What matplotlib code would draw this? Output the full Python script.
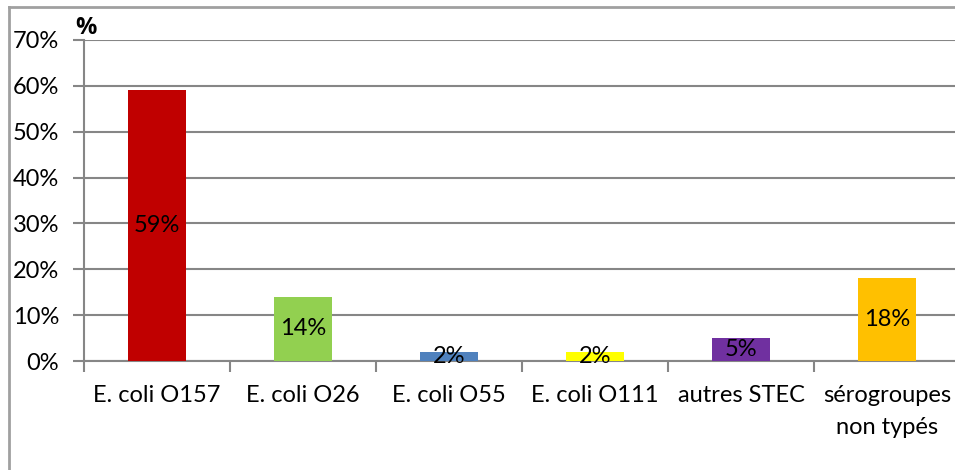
import matplotlib.pyplot as plt
from matplotlib.lines import Line2D
from matplotlib.ticker import FuncFormatter, MultipleLocator

categories = ['E. coli O157', 'E. coli O26', 'E. coli O55', 'E. coli O111',
              'autres STEC', 'sérogroupes\nnon typés']
values = [59, 14, 2, 2, 5, 18]
colors = ['#C00000', '#92D050', '#4F81BD', '#FFFF00', '#7030A0', '#FFC000']

plt.rcParams['font.family'] = ['Lato', 'DejaVu Sans']
grey = '#868686'
fs = 17

fig = plt.figure(figsize=(9.55, 4.7), dpi=100)
ax = fig.add_axes([84 / 955, 109 / 470, 876 / 955, 321 / 470])

x = range(len(categories))
bars = ax.bar(x, values, width=0.4, color=colors, zorder=3)
for b, v in zip(bars, values):
    ax.text(b.get_x() + b.get_width() / 2, v / 2, f'{v}%', ha='center', va='center',
            fontsize=fs, zorder=4)

ax.set_xlim(-0.5, len(categories) - 0.5)
ax.set_ylim(0, 70)
ax.yaxis.set_major_locator(MultipleLocator(10))
ax.yaxis.set_major_formatter(FuncFormatter(lambda v, p: f'{v:.0f}%'))
ax.grid(axis='y', color=grey, linewidth=1.5, zorder=0)

ax.set_xticks([i + 0.5 for i in range(-1, len(categories))], minor=False)
ax.set_xticklabels([])
ax.set_xticks(list(x), minor=True)
ax.set_xticklabels(categories, minor=True, fontsize=fs, linespacing=1.65)
ax.tick_params(axis='x', which='minor', length=0, pad=17)
ax.tick_params(axis='x', which='major', length=8, width=1.5, color=grey, direction='out')
ax.tick_params(axis='y', length=8, width=1.5, color=grey, labelsize=fs, pad=10)

for s in ['top', 'right']:
    ax.spines[s].set_visible(False)
for s in ['left', 'bottom']:
    ax.spines[s].set_color(grey)
    ax.spines[s].set_linewidth(1.5)

ax.text(-0.01, 1.0, '%', transform=ax.transAxes, fontsize=17, fontweight='bold',
        family=['Open Sans', 'DejaVu Sans'], ha='left', va='bottom')

# chart frame
fig.add_artist(Line2D([9 / 955, 9 / 955], [0, 1 - 7 / 470], color='#A0A0A0', lw=2))
fig.add_artist(Line2D([9 / 955, 1], [1 - 7 / 470, 1 - 7 / 470], color='#A0A0A0', lw=2))

fig.savefig('out.png', dpi=100)
